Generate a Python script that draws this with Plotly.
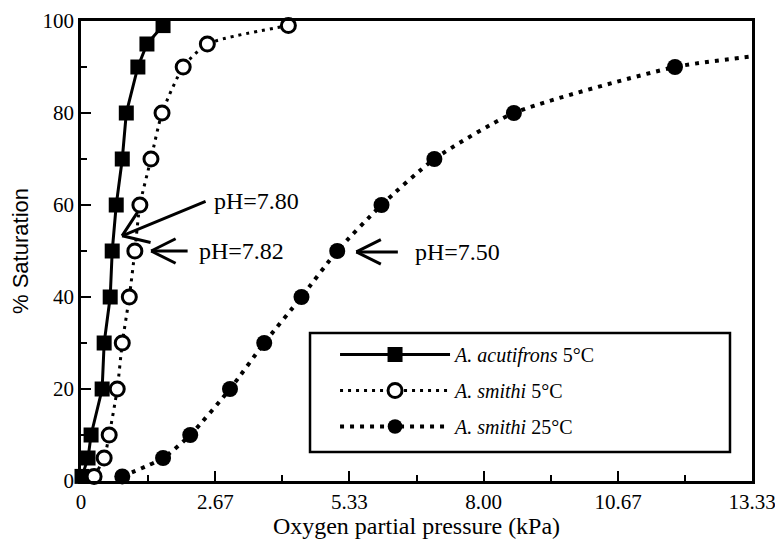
import plotly.graph_objects as go

# ---- data ----
sat_levels = [1, 5, 10, 20, 30, 40, 50, 60, 70, 80, 90, 95, 99]
acutifrons_5C_kpa = [0.02, 0.14, 0.20, 0.42, 0.46, 0.58, 0.62, 0.70, 0.82, 0.90, 1.13, 1.31, 1.63]
smithi_5C_kpa = [0.26, 0.46, 0.56, 0.72, 0.82, 0.96, 1.07, 1.17, 1.39, 1.61, 2.03, 2.51, 4.12]
smithi_25C_sat = [1, 5, 10, 20, 30, 40, 50, 60, 70, 80, 90, 92.3]
smithi_25C_kpa = [0.82, 1.63, 2.17, 2.96, 3.64, 4.38, 5.09, 5.97, 7.02, 8.60, 11.80, 13.33]
smithi_25C_marker = [16] * 11 + [0]

x_tickvals = [0, 2.67, 5.33, 8.00, 10.67, 13.33]
x_ticktext = ["0", "2.67", "5.33", "8.00", "10.67", "13.33"]
x_minor = [1.33, 4.0, 6.67, 9.33, 12.0]
y_tickvals = [0, 20, 40, 60, 80, 100]
y_minor = [10, 30, 50, 70, 90]

SERIF = "Liberation Serif"

fig = go.Figure()
fig.add_trace(go.Scatter(
    x=acutifrons_5C_kpa, y=sat_levels, mode="lines+markers",
    name="<i>A. acutifrons</i> 5°C", legendgroup="a",
    line=dict(color="black", width=3),
    marker=dict(symbol="square", size=15, color="black", opacity=1),
    cliponaxis=False))
fig.add_trace(go.Scatter(
    x=smithi_5C_kpa, y=sat_levels, mode="lines+markers",
    name="<i>A. smithi</i> 5°C", legendgroup="b",
    line=dict(color="black", width=3, dash="3px,5px", shape="spline", smoothing=0.6),
    marker=dict(symbol="circle", size=14, color="white", opacity=1,
                line=dict(color="black", width=3)),
    cliponaxis=False))
fig.add_trace(go.Scatter(
    x=smithi_25C_kpa, y=smithi_25C_sat, mode="lines+markers",
    name="<i>A. smithi</i> 25°C", legendgroup="c",
    line=dict(color="black", width=4, dash="4px,6px", shape="spline", smoothing=0.6),
    marker=dict(symbol="circle", size=smithi_25C_marker, color="black", opacity=1,
                line=dict(width=0)),
    cliponaxis=False))

axis_common = dict(showline=True, linewidth=2.5, linecolor="black", mirror=True,
                   ticks="inside", ticklen=10, tickwidth=2, tickcolor="black",
                   showgrid=False, zeroline=False, ticklabeloverflow="allow",
                   automargin=False,
                   tickfont=dict(family=SERIF, size=21, color="black"))

fig.update_xaxes(range=[0, 13.33], tickmode="array", tickvals=x_tickvals, ticktext=x_ticktext,
                 minor=dict(tickmode="array", tickvals=x_minor, ticks="inside", ticklen=6,
                            tickwidth=2, tickcolor="black"),
                 title=dict(text="Oxygen partial pressure (kPa)",
                            font=dict(family=SERIF, size=24, color="black"), standoff=4),
                 **axis_common)
fig.update_yaxes(range=[0, 100], tickmode="array", tickvals=y_tickvals,
                 minor=dict(tickmode="array", tickvals=y_minor, ticks="inside", ticklen=6,
                            tickwidth=2, tickcolor="black"),
                 title=dict(text="% Saturation",
                            font=dict(family="Liberation Sans", size=22, color="black"), standoff=8),
                 **axis_common)

# pH annotations with open V arrowheads
def arrow(fig, tip_x, tip_y, ax, ay, barbs):
    fig.add_annotation(x=tip_x, y=tip_y, ax=ax, ay=ay, text="", showarrow=True,
                       arrowhead=0, arrowwidth=3, arrowcolor="black", standoff=0)
    for bx, by in barbs:
        fig.add_annotation(x=tip_x, y=tip_y, ax=bx, ay=by, text="", showarrow=True,
                           arrowhead=0, arrowwidth=3, arrowcolor="black", standoff=0)

arrow(fig, 0.816, 53.3, 85, -35, [(30, 7), (17, -26)])
arrow(fig, 1.393, 50.0, 38, 0, [(26, -13), (26, 13)])
arrow(fig, 5.47, 49.8, 43, 0, [(26, -13), (26, 13)])

ann_font = dict(family=SERIF, size=24, color="black")
fig.add_annotation(x=2.61, y=60.9, text="pH=7.80", showarrow=False, xanchor="left", font=ann_font)
fig.add_annotation(x=2.31, y=50.0, text="pH=7.82", showarrow=False, xanchor="left", font=ann_font)
fig.add_annotation(x=6.59, y=49.8, text="pH=7.50", showarrow=False, xanchor="left", font=ann_font)

# legend frame
fig.add_shape(type="rect", xref="paper", yref="paper", x0=0.3413, x1=0.9672, y0=0.063, y1=0.3217,
              line=dict(color="black", width=2.5), fillcolor="rgba(0,0,0,0)")

fig.update_layout(
    width=775, height=539,
    margin=dict(l=81, r=23, t=21, b=58, autoexpand=False),
    paper_bgcolor="white", plot_bgcolor="white",
    showlegend=True,
    legend=dict(x=0.3786, y=0.3174, xanchor="left", yanchor="top",
                bgcolor="rgba(0,0,0,0)", borderwidth=0,
                font=dict(family=SERIF, size=20, color="black"),
                itemwidth=110, tracegroupgap=7, traceorder="grouped"),
)

fig.write_html("out.html")
